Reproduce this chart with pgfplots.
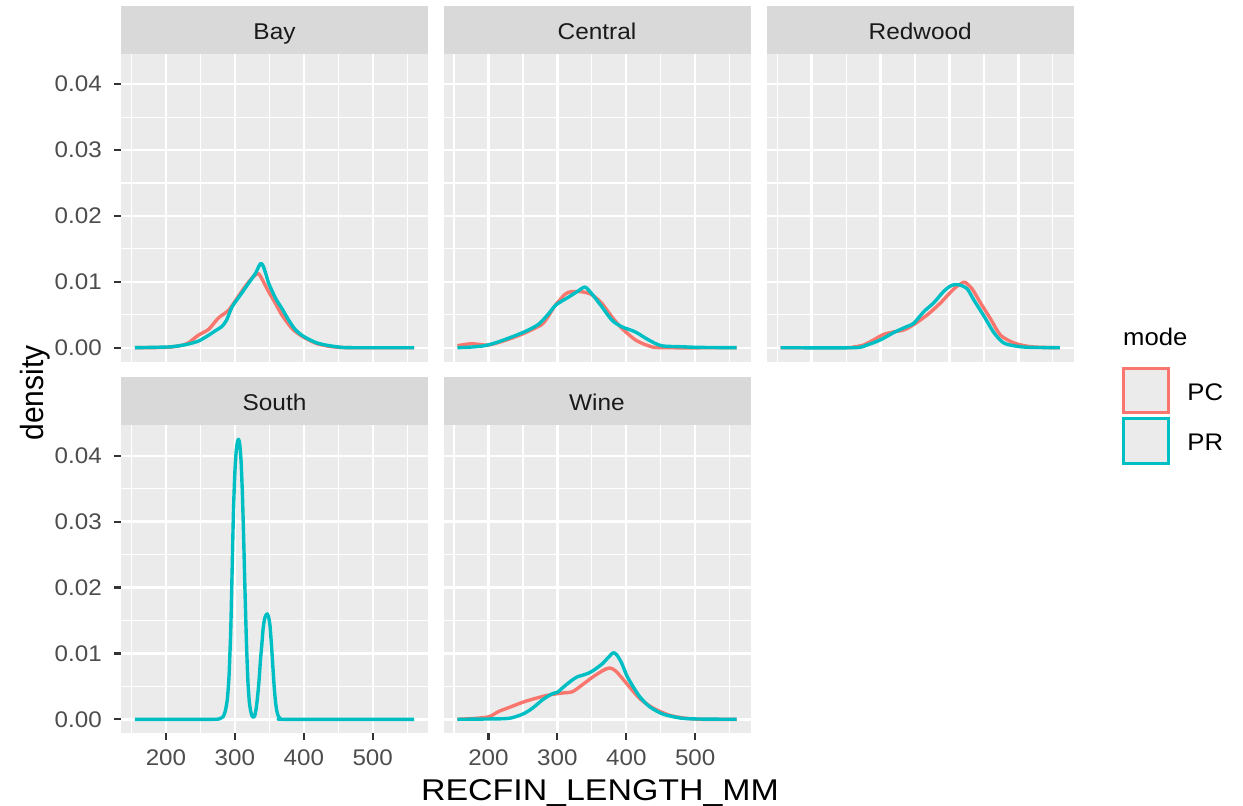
\documentclass[border=0pt]{standalone}
\usepackage{fontspec}
\setmainfont{Liberation Sans}
\usepackage{pgfplots}
\pgfplotsset{compat=1.18}

\definecolor{pc}{HTML}{F8766D}
\definecolor{pr}{HTML}{00BFC4}
\definecolor{panelbg}{HTML}{EBEBEB}
\definecolor{stripbg}{HTML}{D9D9D9}
\definecolor{gray10}{HTML}{1A1A1A}
\definecolor{gray20}{HTML}{333333}
\definecolor{gray30}{HTML}{4D4D4D}

\newcommand{\tickfont}{\fontsize{11.3pt}{13pt}\selectfont}
\newcommand{\stripfont}{\fontsize{11.4pt}{13pt}\selectfont}
\newcommand{\legfont}{\fontsize{12pt}{14pt}\selectfont}
\newcommand{\titlefont}{\fontsize{15pt}{18pt}\selectfont}

\pgfplotsset{
  facet/.style={
    scale only axis, width=153.5pt, height=154pt, anchor=south west,
    xmin=134.75, xmax=580.25, ymin=-0.002125, ymax=0.044625,
    axis background/.style={fill=panelbg, draw=none},
    axis line style={draw=none},
    scaled x ticks=false, scaled y ticks=false,
    xtick={200,300,400,500}, ytick={0,0.01,0.02,0.03,0.04},
    minor xtick={150,250,350,450,550},
    minor ytick={0.005,0.015,0.025,0.035},
    grid=both,
    major grid style={white, line width=1.2pt},
    minor grid style={white, line width=0.6pt},
    tick align=outside, tick pos=left,
    major tick length=3.5pt, minor tick length=0pt,
    major tick style={gray20, line width=1.1pt},
    xticklabels={200,300,400,500},
    yticklabels={0.00,0.01,0.02,0.03,0.04},
    ticklabel style={font=\tickfont, text=gray30, xscale=1.07},
    xticklabel style={anchor=north, inner sep=0pt, yshift=-4.5pt},
    yticklabel style={anchor=east, inner sep=0pt, xshift=-5.5pt},
    clip=false,
  },
  nox/.style={xticklabels={}, xtick style={draw=none}},
  noy/.style={yticklabels={}, ytick style={draw=none}},
  pcline/.style={pc, line width=1.7pt, line join=round, smooth, tension=0.45, no marks},
  prline/.style={pr, line width=1.7pt, line join=round, smooth, tension=0.45, no marks},
}

% facet strip with its label, drawn above the panel
\newcommand{\strip}[1]{%
  \fill[stripbg] (rel axis cs:0,1) rectangle ([yshift=24pt]rel axis cs:1,1);
  \node[font=\stripfont, text=gray10, anchor=base, inner sep=0pt, xscale=1.07]
    at ([yshift=7.2pt]rel axis cs:0.5,1) {#1};
}

\begin{document}
\begin{tikzpicture}
\useasboundingbox (0,0) rectangle (621.5pt,402.5pt);

% ---------------- Bay ----------------
\begin{axis}[facet, nox, at={(60.5pt,221.65pt)}]
\addplot[pcline] table {
155 0
200 0.00005
220 0.0003
232 0.0007
247 0.0019
262 0.0028
276 0.0045
291 0.0057
303 0.0075
315 0.0093
325 0.0106
332 0.0112
335 0.0112
340 0.0103
349 0.0085
359 0.0067
368 0.0050
383 0.0029
398 0.0017
417 0.0007
432 0.0003
446 0.0001
470 0
560 0
};
\addplot[prline] table {
155 0
200 0.0001
213 0.0002
230 0.0005
247 0.0010
262 0.0019
272 0.0026
281 0.0032
288 0.0042
296 0.0062
310 0.0083
320 0.0098
330 0.0113
335 0.0124
338 0.0128
341 0.0124
345 0.0112
349 0.0098
359 0.0075
368 0.0060
378 0.0042
388 0.0027
400 0.0017
417 0.0008
432 0.0004
451 0.0001
470 0
560 0
};
\strip{Bay}
\end{axis}

% ---------------- Central ----------------
\begin{axis}[facet, nox, noy, at={(221.75pt,221.65pt)}]
\addplot[pcline] table {
155 0.0003
175 0.0006
199 0.0004
218 0.0009
235 0.0015
252 0.0022
277 0.0035
287 0.0048
296 0.0063
311 0.0081
320 0.0085
335 0.0085
349 0.0081
364 0.0068
379 0.0047
393 0.0030
413 0.0012
432 0.0003
452 0
560 0
};
\addplot[prline] table {
155 0
175 0.0001
194 0.0003
209 0.0007
228 0.0014
252 0.0024
272 0.0035
286 0.0050
298 0.0065
315 0.0076
330 0.0086
340 0.0092
349 0.0083
364 0.0063
379 0.0042
393 0.0032
413 0.0024
432 0.0012
451 0.0003
480 0.00015
505 0.00005
560 0
};
\strip{Central}
\end{axis}

% ---------------- Redwood ----------------
\begin{axis}[facet, nox, noy, at={(383.35pt,221.65pt)}]
\addplot[pcline] table {
155 0
250 0
260 0.0001
275 0.0004
290 0.0012
304 0.0020
319 0.0024
334 0.0027
348 0.0035
368 0.0050
387 0.0068
406 0.0089
418 0.0098
423 0.0099
433 0.0089
445 0.0068
460 0.0043
474 0.0019
494 0.0007
518 0.00015
552 0
560 0
};
\addplot[prline] table {
155 0
261 0
280 0.0004
300 0.0012
319 0.0023
338 0.0032
348 0.0037
363 0.0055
377 0.0068
392 0.0086
402 0.0094
410 0.0096
416 0.0095
426 0.0089
435 0.0073
450 0.0048
465 0.0022
479 0.0007
499 0.0002
518 0.00005
560 0
};
\strip{Redwood}
\end{axis}

% ---------------- South ----------------
\begin{axis}[facet, at={(60.5pt,35.85pt)}]
\addplot[prline, tension=0.3] table {
155 0
268 0
278 0.0001
283 0.0004
286 0.0012
289 0.0030
291.5 0.0065
294 0.0135
296 0.0225
298 0.0318
300 0.0375
302 0.0408
304 0.0423
305.5 0.0425
307 0.0418
309 0.0392
311 0.0340
313 0.0265
315 0.0182
317 0.0110
319 0.0056
321 0.0026
323 0.0012
325 0.0005
327 0.0003
329 0.0006
331 0.0017
333 0.0035
335 0.0058
337 0.0088
339 0.0112
341 0.0138
343 0.0152
345 0.0158
347 0.0160
349 0.0155
351 0.0142
353 0.0114
355 0.0082
357 0.0050
359 0.0026
361 0.0012
363 0.0005
366 0.0001
371 0
560 0
};
\strip{South}
\end{axis}

% ---------------- Wine ----------------
\begin{axis}[facet, noy, at={(221.75pt,35.85pt)}]
\addplot[pcline] table {
155 0
182 0.00015
201 0.0004
215 0.0012
230 0.0018
250 0.0026
269 0.0032
288 0.0037
308 0.0040
322 0.0042
337 0.0053
351 0.0064
366 0.0074
376 0.0078
385 0.0073
400 0.0055
419 0.0032
439 0.0017
463 0.0006
487 0.00015
510 0
560 0
};
\addplot[prline] table {
155 0
200 0.00005
230 0.00015
250 0.0008
264 0.0017
279 0.0030
293 0.0039
300 0.0041
310 0.0050
322 0.0060
330 0.0065
337 0.0067
345 0.0070
352 0.0074
360 0.0080
366 0.0085
374 0.0094
381 0.0101
386 0.0098
393 0.0086
400 0.0068
405 0.0058
419 0.0035
434 0.0019
453 0.0008
478 0.0002
502 0.00005
560 0
};
\strip{Wine}
\end{axis}

% ---------------- axis titles ----------------
\node[font=\titlefont, anchor=base, inner sep=0pt, xscale=1.13] at (300pt,2.3pt) {RECFIN\_LENGTH\_MM};
\node[font=\titlefont, anchor=base, inner sep=0pt, xscale=1.07, rotate=90] at (21.65pt,206pt) {density};

% ---------------- legend ----------------
\node[font=\legfont, anchor=base west, inner sep=0pt, xscale=1.07] at (561.35pt,229.5pt) {mode};
\draw[pc, line width=1.5pt, fill=panelbg] (561.6pt,196.1pt) rectangle (584.25pt,218.4pt);
\draw[pr, line width=1.5pt, fill=panelbg] (561.6pt,170.75pt) rectangle (584.25pt,193.4pt);
\node[font=\legfont, anchor=base west, inner sep=0pt, xscale=1.07] at (593.5pt,202.5pt) {PC};
\node[font=\legfont, anchor=base west, inner sep=0pt, xscale=1.07] at (593.5pt,177.5pt) {PR};
\end{tikzpicture}
\end{document}
